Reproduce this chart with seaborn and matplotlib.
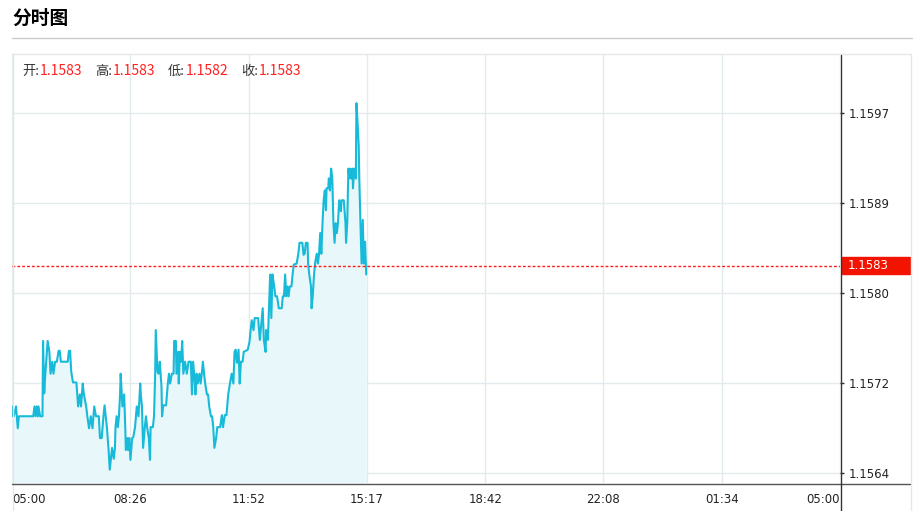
import numpy as np
import pandas as pd
import matplotlib
matplotlib.use('Agg')
import matplotlib.pyplot as plt
import matplotlib.transforms as mtransforms
from matplotlib.lines import Line2D
from matplotlib.patches import Rectangle
import seaborn as sns

# ------------------------------------------------------------
# Intraday data: minutes after 05:00 and price
# ------------------------------------------------------------
minutes = [
    0, 1, 3, 7, 10, 12, 37, 39, 41, 43,
    45, 46, 49, 53, 54, 56, 58, 62, 65, 67,
    70, 72, 75, 78, 81, 83, 85, 97, 99, 101,
    103, 106, 112, 115, 118, 120, 123, 125, 129, 131,
    134, 137, 140, 143, 146, 151, 153, 156, 159, 161,
    163, 165, 168, 170, 172, 174, 177, 179, 180, 182,
    184, 186, 188, 189, 191, 192, 195, 197, 198, 201,
    202, 204, 206, 209, 211, 214, 217, 220, 223, 224,
    226, 228, 231, 233, 235, 238, 240, 241, 245, 247,
    249, 250, 253, 255, 257, 260, 261, 263, 268, 271,
    273, 275, 278, 281, 282, 285, 286, 289, 290, 292,
    294, 296, 298, 301, 304, 307, 310, 311, 313, 315,
    318, 319, 321, 323, 326, 328, 330, 332, 334, 336,
    339, 341, 343, 346, 348, 350, 352, 355, 357, 362,
    365, 367, 370, 373, 376, 379, 382, 385, 387, 389,
    391, 394, 396, 398, 401, 403, 410, 413, 415, 417,
    420, 422, 428, 431, 434, 436, 438, 441, 442, 445,
    447, 449, 451, 453, 456, 458, 461, 464, 468, 469,
    471, 473, 475, 477, 479, 481, 483, 486, 488, 490,
    495, 498, 500, 505, 507, 509, 511, 514, 515, 517,
    520, 521, 523, 525, 527, 530, 532, 534, 536, 538,
    540, 542, 544, 546, 547, 550, 551, 553, 555, 557,
    559, 561, 563, 565, 567, 569, 572, 573, 577, 580,
    581, 583, 585, 587, 588, 590, 592, 593, 595, 598,
    599, 601, 603, 604, 606, 608, 610, 612, 614, 616,
]
prices = [
    1.15692, 1.15701, 1.15692, 1.15701, 1.15681, 1.15692, 1.15692, 1.15701, 1.15692, 1.15701,
    1.15692, 1.15701, 1.15692, 1.15692, 1.15761, 1.15713, 1.15731, 1.15761, 1.15751, 1.15731,
    1.15742, 1.15731, 1.15742, 1.15742, 1.15752, 1.15752, 1.15742, 1.15742, 1.15752, 1.15752,
    1.15733, 1.15723, 1.15723, 1.15701, 1.15712, 1.15701, 1.15722, 1.15712, 1.15701, 1.15692,
    1.15681, 1.15692, 1.15681, 1.15701, 1.15692, 1.15692, 1.15672, 1.15672, 1.15692, 1.15702,
    1.15692, 1.15682, 1.15661, 1.15643, 1.15653, 1.15663, 1.15653, 1.15663, 1.15682, 1.15692,
    1.15682, 1.15692, 1.15713, 1.15731, 1.15712, 1.15701, 1.15712, 1.15682, 1.15661, 1.15672,
    1.15661, 1.15672, 1.15652, 1.15672, 1.15673, 1.15682, 1.15701, 1.15692, 1.15722, 1.15712,
    1.15701, 1.15663, 1.15682, 1.15692, 1.15682, 1.15672, 1.15652, 1.15682, 1.15682, 1.15692,
    1.15731, 1.15771, 1.15733, 1.15731, 1.15742, 1.15719, 1.15692, 1.15702, 1.15702, 1.15722,
    1.15731, 1.15722, 1.15731, 1.15731, 1.15761, 1.15761, 1.15731, 1.15751, 1.15722, 1.15751,
    1.15742, 1.15761, 1.15731, 1.15742, 1.15731, 1.15742, 1.15742, 1.15742, 1.15712, 1.15742,
    1.15722, 1.15712, 1.15731, 1.15722, 1.15731, 1.15722, 1.15731, 1.15742, 1.15731, 1.15722,
    1.15712, 1.15712, 1.15701, 1.15692, 1.15692, 1.15682, 1.15663, 1.15672, 1.15682, 1.15682,
    1.15693, 1.15682, 1.15693, 1.15693, 1.15712, 1.15722, 1.15731, 1.15722, 1.15751, 1.15753,
    1.15741, 1.15753, 1.15722, 1.15742, 1.15742, 1.15751, 1.15753, 1.15760, 1.15771, 1.15780,
    1.15771, 1.15782, 1.15782, 1.15762, 1.15780, 1.15791, 1.15762, 1.15751, 1.15771, 1.15762,
    1.15792, 1.15822, 1.15782, 1.15822, 1.15811, 1.15802, 1.15802, 1.15791, 1.15791, 1.15791,
    1.15802, 1.15802, 1.15822, 1.15802, 1.15811, 1.15802, 1.15811, 1.15811, 1.15822, 1.15831,
    1.15832, 1.15841, 1.15851, 1.15851, 1.15840, 1.15841, 1.15851, 1.15851, 1.15832, 1.15822,
    1.15811, 1.15791, 1.15802, 1.15820, 1.15832, 1.15841, 1.15832, 1.15841, 1.15860, 1.15841,
    1.15869, 1.15890, 1.15899, 1.15881, 1.15901, 1.15901, 1.15910, 1.15899, 1.15919, 1.15910,
    1.15869, 1.15851, 1.15869, 1.15860, 1.15870, 1.15890, 1.15880, 1.15890, 1.15890, 1.15869,
    1.15851, 1.15869, 1.15919, 1.15910, 1.15919, 1.15910, 1.15919, 1.15901, 1.15919, 1.15910,
    1.15979, 1.15961, 1.15939, 1.15910, 1.15869, 1.15832, 1.15872, 1.15832, 1.15852, 1.15822,
]
assert len(minutes) == len(prices)

x_ticks = np.linspace(0, 1440, 8)
x_labels = ['05:00', '08:26', '11:52', '15:17', '18:42', '22:08', '01:34', '05:00']
y_ticks = np.linspace(1.1564, 1.1597, 5)
y_labels = ['1.1564', '1.1572', '1.1580', '1.1589', '1.1597']
last_price = 1.1583
last_label = '1.1583'
ohlc_names = ['开:', '高:', '低:', '收:']
ohlc_values = ['1.1583', '1.1583', '1.1582', '1.1583']

df = pd.DataFrame({'minute': minutes, 'price': prices})

# ------------------------------------------------------------
# Figure layout (pixel helpers)
# ------------------------------------------------------------
sns.set_style('white')
plt.rcParams['font.family'] = ['Noto Sans CJK SC', 'DejaVu Sans']

W, H = 913, 511
fig = plt.figure(figsize=(W / 100, H / 100), dpi=100)


def fx(px):
    return px / W


def fy(py):
    return 1 - py / H


ax = fig.add_axes([fx(12), fy(483), fx(840) - fx(12), fy(55) - fy(483)])

line_c = '#17bad8'
fill_c = '#e8f7fa'
y_lo, y_hi = 1.156308, 1.160232

ax.fill_between(df['minute'], df['price'], y_lo, color=fill_c, lw=0, zorder=1)
sns.lineplot(data=df, x='minute', y='price', ax=ax, color=line_c,
             lw=1.5, estimator=None, zorder=3)
ax.axhline(last_price, color='#ff1a1a', lw=1, ls=(0, (2, 1.5)), zorder=4)

ax.set_xlim(0, 1440)
ax.set_ylim(y_lo, y_hi)
ax.set_xlabel('')
ax.set_ylabel('')
for s in ax.spines.values():
    s.set_visible(False)

ax.grid(True, color='#e3ebef', lw=1)
ax.set_axisbelow(True)

ax.yaxis.tick_right()
ax.set_yticks(y_ticks, y_labels)
ax.set_xticks(x_ticks, x_labels)
ax.tick_params(axis='y', direction='out', length=3, width=1, color='#333333',
               pad=3, labelsize=8.5, labelcolor='#222222')
ax.tick_params(axis='x', direction='out', length=3, width=1, color='#555555',
               pad=4, labelsize=8.5, labelcolor='#222222')
for lbl in ax.get_xticklabels() + ax.get_yticklabels():
    lbl.set_fontfamily('DejaVu Sans')
xl = ax.get_xticklabels()
xl[0].set_ha('left')
xl[-1].set_ha('right')

# current price tag on the right axis
trans = mtransforms.blended_transform_factory(ax.transAxes, ax.transData)
px_y = (y_hi - y_lo) / 428
ax.add_patch(Rectangle((2 / 828 + 1, last_price - 8.5 * px_y), 68 / 828, 17 * px_y,
                       transform=trans, clip_on=False, color='#f21400', zorder=5))
ax.text(1 + 8 / 828, last_price, last_label, transform=trans, va='center',
        ha='left', color='white', fontsize=8.5, family='DejaVu Sans', zorder=6)

# frame and axis lines
frame_c = '#e6e6e6'
fig.add_artist(Line2D([fx(12), fx(910)], [fy(54.5)] * 2, color=frame_c, lw=1))
fig.add_artist(Line2D([fx(12.5)] * 2, [fy(54.5), 0], color=frame_c, lw=1))
fig.add_artist(Line2D([fx(910.5)] * 2, [fy(54.5), 0], color=frame_c, lw=1))
fig.add_artist(Line2D([fx(12), fx(910)], [fy(483.5)] * 2, color='#555555', lw=1))
fig.add_artist(Line2D([fx(840.5)] * 2, [fy(55), 0], color='#333333', lw=1))

# title and separator
fig.text(fx(12), fy(18), '分时图', fontsize=13.5, fontweight='bold',
         ha='left', va='center', color='#000000')
fig.add_artist(Line2D([fx(12), 1], [fy(38.5)] * 2, color='#cccccc', lw=1))

# OHLC header
name_x = [22, 95, 168, 241]
value_x = [40, 113, 186, 259]
for name, val, nx, vx in zip(ohlc_names, ohlc_values, name_x, value_x):
    fig.text(fx(nx), fy(71), name, fontsize=9.5, color='#333333', va='center')
    fig.text(fx(vx), fy(71), val, fontsize=10, color='#ff2020', va='center')

fig.savefig('out.png', dpi=100)
